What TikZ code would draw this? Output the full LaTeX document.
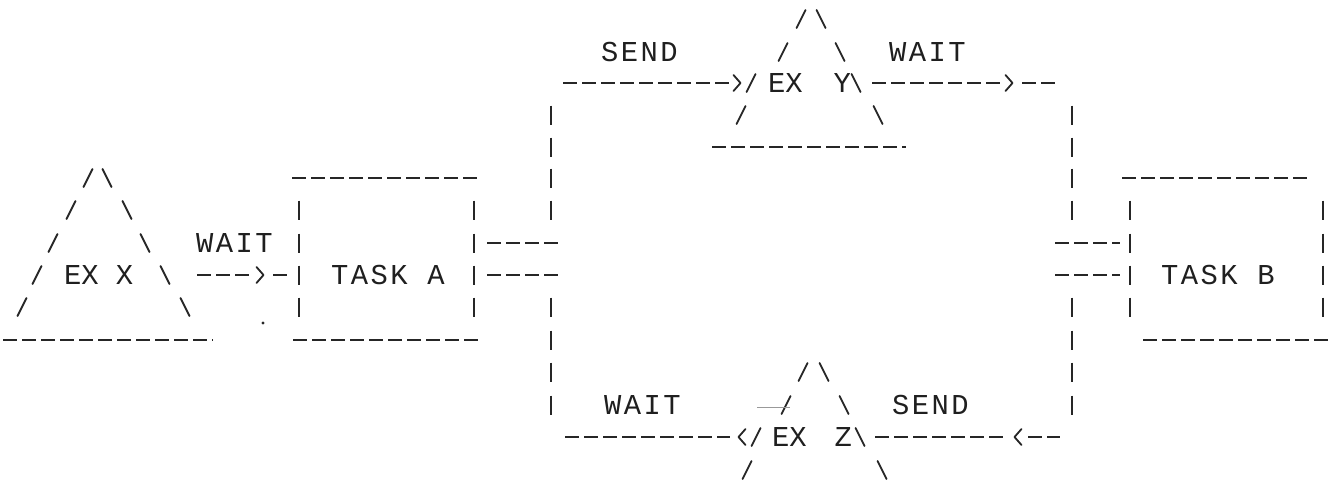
\documentclass[tikz,border=0pt]{standalone}
\usepackage{fontspec}
\newfontfamily\dmfont[LetterSpace=8.7]{Liberation Mono}
\newfontfamily\dmtight{Liberation Mono}
\begin{document}
\begin{tikzpicture}[x=1pt,y=-1pt,
  dl/.style={draw=black!85, line width=1.5pt, dash pattern=on 13.5pt off 5.5pt},
  br/.style={draw=black!85, line width=2pt},
  sl/.style={draw=black!85, line width=1.8pt, line cap=round, line join=round},
  word/.style={font=\dmfont\fontsize{28.8}{28.8}\selectfont, inner sep=0pt, outer sep=0pt, anchor=base west, text=black!88},
  extext/.style={font=\dmtight\fontsize{28.8}{28.8}\selectfont, inner sep=0pt, outer sep=0pt, anchor=base west, text=black!88},
]
\fill[white] (0,0) rectangle (1328,501);
\useasboundingbox (0,0) rectangle (1328,501);

% ---- text labels ----
\node[extext] (exx) at (64,284.5) {EX\hspace{17.4pt}X};
\node[word] (waitx) at (196,252.5) {WAIT};
\node[word] (taska) at (331,284.5) {TASK A};
\node[word] (taskb) at (1161,284.5) {TASK B};
\node[word] (sendy) at (601,61.5) {SEND};
\node[word] (waity) at (889,61.5) {WAIT};
\node[extext] (exy) at (768,92.5) {EX\hspace{31pt}Y};
\node[word] (waitz) at (604,414.5) {WAIT};
\node[word] (sendz) at (892,414.5) {SEND};
\node[extext] (exz) at (772,446.5) {EX\hspace{28pt}Z};

% ---- vertical bars ----
\foreach \x in {299,474,1130,1323}
  \foreach \y in {210,243,275,307}
    \draw[br] (\x,\y-9.5) -- (\x,\y+9.5);
\foreach \x in {551,1072}
  \foreach \y in {115,147,178,210,307,340,372,405}
    \draw[br] (\x,\y-9.5) -- (\x,\y+9.5);

% ---- slashes ----
\foreach \x/\y in {88/178,71/210,53/243,37/275,22/307,
                   801/19,783/52,751/83,741/115,
                   803/372,786/405,756/437,747/470}
  \draw[sl] (\x-4.5,\y+9) -- (\x+4.5,\y-9);
\foreach \x/\y in {107/178,127/210,145/243,165/275,185/307,
                   821/19,840/52,856/83,878/115,
                   824/372,844/405,860/437,882/470}
  \draw[sl] (\x-4.5,\y-9) -- (\x+4.5,\y+9);

% ---- dashed rules ----
\foreach \a/\b/\y in {563/730/83, 872/1002/83, 1022/1060/83,
                      712/906/147,
                      292/482/178, 1122/1308/178,
                      487/560/243, 487/560/275, 1055/1120/243, 1055/1120/275,
                      197/252/275, 273/287/275,
                      3/213/340, 293/483/340, 1143/1328/340,
                      565/730/437, 875/1007/437, 1028/1060/437}
  \draw[dl] (\a,\y) -- (\b,\y);

% ---- arrow heads ----
\foreach \x/\y in {737/83, 1009/83, 260/275}
  \draw[sl] (\x-3.5,\y-8) -- (\x+3.5,\y) -- (\x-3.5,\y+8);
\foreach \x/\y in {742/437, 1018/437}
  \draw[sl] (\x+3.5,\y-8) -- (\x-3.5,\y) -- (\x+3.5,\y+8);

% ---- faint marks ----
\draw[black!40, line width=0.8pt] (757,407) -- (790,407);
\fill[black!85] (263,323) circle (1.6);
\end{tikzpicture}
\end{document}
